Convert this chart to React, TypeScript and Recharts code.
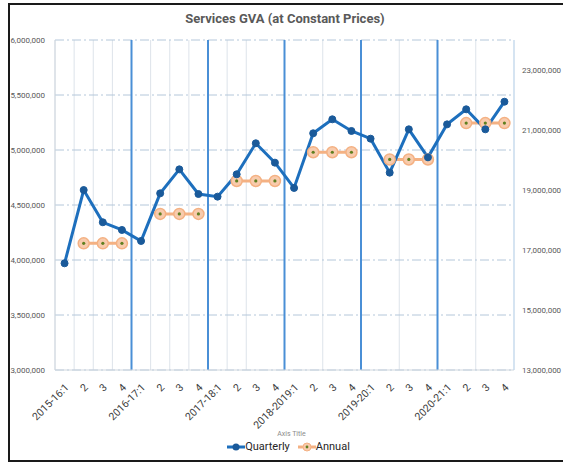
import React from 'react';
import {
  ComposedChart,
  Line,
  XAxis,
  YAxis,
  CartesianGrid,
  ReferenceLine,
  Legend,
} from 'recharts';

const categories = [
  '2015-16:1', '2', '3', '4',
  '2016-17:1', '2', '3', '4',
  '2017-18:1', '2', '3', '4',
  '2018-2019:1', '2', '3', '4',
  '2019-20:1', '2', '3', '4',
  '2020-21:1', '2', '3', '4',
];

const quarterly = [
  3970000, 4636000, 4343000, 4273000,
  4173000, 4606000, 4824000, 4600000,
  4576000, 4779000, 5061000, 4885000,
  4655000, 5152000, 5279000, 5173000,
  5103000, 4794000, 5188000, 4933000,
  5233000, 5370000, 5188000, 5439000,
];

// annual value per year, shown at quarters 2-4 of each year
const annual = [17222000, 18203000, 19301000, 20259000, 20018000, 21230000];

const leftTicks = [3000000, 3500000, 4000000, 4500000, 5000000, 5500000, 6000000];
const rightTicks = [13000000, 15000000, 17000000, 19000000, 21000000, 23000000];
const yearBoundaries = [4, 8, 12, 16, 20];
const boundaryTicks = Array.from({ length: 25 }, (_, i) => i);

const data = categories.map((c, i) => ({
  cat: c,
  pos: i + 0.5,
  Quarterly: quarterly[i],
  Annual: i % 4 === 0 ? null : annual[Math.floor(i / 4)],
}));

const fmt = (v: number) => v.toLocaleString('en-US');

const FONT = 'Roboto, "Open Sans", sans-serif';

const XTick = (props: any) => {
  const { x, y, payload } = props;
  return (
    <text
      x={x + 5}
      y={y + 10}
      textAnchor="end"
      fontSize={10.5}
      fill="#404040"
      fontFamily={FONT}
      transform={`rotate(-45 ${x + 5} ${y + 10})`}
    >
      {payload.value}
    </text>
  );
};

const AnnualDot = (props: any) => {
  const { cx, cy, value } = props;
  if (value == null || cx == null || cy == null) return null;
  return (
    <g>
      <circle cx={cx} cy={cy} r={5.5} fill="#f8cbad" stroke="#f4b183" strokeWidth={1.5} />
      <circle cx={cx} cy={cy} r={1.6} fill="#5f7f1f" />
    </g>
  );
};

const LegendContent = () => (
  <div style={{ fontFamily: FONT, textAlign: 'center', width: 563 }}>
    <div style={{ fontSize: 7, color: '#8c8c8c', marginLeft: 20, lineHeight: '9px' }}>Axis Title</div>
    <div style={{ display: 'flex', justifyContent: 'center', alignItems: 'center', marginTop: 1, marginLeft: 14 }}>
      <svg width={18} height={10}>
        <line x1={0} y1={5} x2={18} y2={5} stroke="#1d6fbd" strokeWidth={3} />
        <circle cx={9} cy={5} r={3.5} fill="#1a5a9a" />
      </svg>
      <span style={{ fontSize: 11, color: '#262626', marginRight: 8 }}>Quarterly</span>
      <svg width={18} height={10}>
        <line x1={0} y1={5} x2={18} y2={5} stroke="#f4b183" strokeWidth={3} />
        <circle cx={9} cy={5} r={4} fill="#f8cbad" stroke="#f4b183" />
        <circle cx={9} cy={5} r={1.4} fill="#5f7f1f" />
      </svg>
      <span style={{ fontSize: 11, color: '#262626' }}>Annual</span>
    </div>
  </div>
);

export default function App() {
  return (
    <div style={{ position: 'absolute', left: 0, top: 0, width: 563, height: 462, background: '#fff' }}>
      <div
        style={{
          position: 'absolute',
          left: 8,
          top: 3,
          width: 555,
          height: 455,
          borderTop: '2px solid #1a1a1a',
          borderLeft: '2px solid #1a1a1a',
          borderBottom: '2px solid #1a1a1a',
        }}
      />
      <div
        style={{
          position: 'absolute',
          left: 0,
          top: 11,
          width: 570,
          textAlign: 'center',
          fontFamily: FONT,
          fontWeight: 700,
          fontSize: 13,
          color: '#595959',
        }}
      >
        Services GVA (at Constant Prices)
      </div>
      <ComposedChart
        width={563}
        height={462}
        data={data}
        margin={{ top: 40, right: 0, bottom: 32, left: 0 }}
        style={{ position: 'absolute', left: 0, top: 0 }}
      >
        <XAxis
          xAxisId="cat"
          dataKey="cat"
          type="category"
          allowDuplicatedCategory
          padding={{ left: 9.56, right: 9.56 }}
          height={60}
          interval={0}
          tick={<XTick />}
          tickLine={false}
          axisLine={{ stroke: '#d0d7de' }}
        />
        <XAxis
          xAxisId="num"
          dataKey="pos"
          type="number"
          domain={[0, 24]}
          allowDataOverflow
          ticks={boundaryTicks}
          hide
        />
        <YAxis
          yAxisId="left"
          width={55}
          domain={[3000000, 6000000]}
          ticks={leftTicks}
          tickFormatter={fmt}
          tick={{ fontSize: 8, fill: '#595959', fontFamily: FONT }}
          tickLine={false}
          tickMargin={4}
          axisLine={{ stroke: '#d0d7de' }}
        />
        <YAxis
          yAxisId="right"
          orientation="right"
          width={49}
          domain={[13000000, 24000000]}
          ticks={rightTicks}
          tickFormatter={fmt}
          tick={{ fontSize: 8, fill: '#595959', fontFamily: FONT }}
          tickLine={false}
          axisLine={{ stroke: '#bdd7ee' }}
        />
        <CartesianGrid
          xAxisId="num"
          yAxisId="left"
          horizontal={false}
          stroke="#dde3ea"
          strokeWidth={1}
        />
        <CartesianGrid
          xAxisId="cat"
          yAxisId="left"
          vertical={false}
          stroke="#b4c7da"
          strokeDasharray="9 3 2 3"
        />
        {yearBoundaries.map((b) => (
          <ReferenceLine
            key={b}
            xAxisId="num"
            yAxisId="left"
            x={b}
            stroke="#4a8fd6"
            strokeWidth={2}
          />
        ))}
        <Line
          xAxisId="cat"
          yAxisId="right"
          dataKey="Annual"
          stroke="#f4b183"
          strokeWidth={3}
          dot={<AnnualDot />}
          activeDot={false}
          isAnimationActive={false}
        />
        <Line
          xAxisId="cat"
          yAxisId="left"
          dataKey="Quarterly"
          stroke="#1d6fbd"
          strokeWidth={3}
          dot={{ r: 3.5, fill: '#1a5a9a', stroke: '#1a5a9a', strokeWidth: 1 }}
          activeDot={false}
          isAnimationActive={false}
        />
        <Legend
          verticalAlign="middle"
          align="center"
          content={<LegendContent />}
          wrapperStyle={{ position: 'absolute', top: 430, left: 0, width: 563 }}
        />
      </ComposedChart>
    </div>
  );
}
